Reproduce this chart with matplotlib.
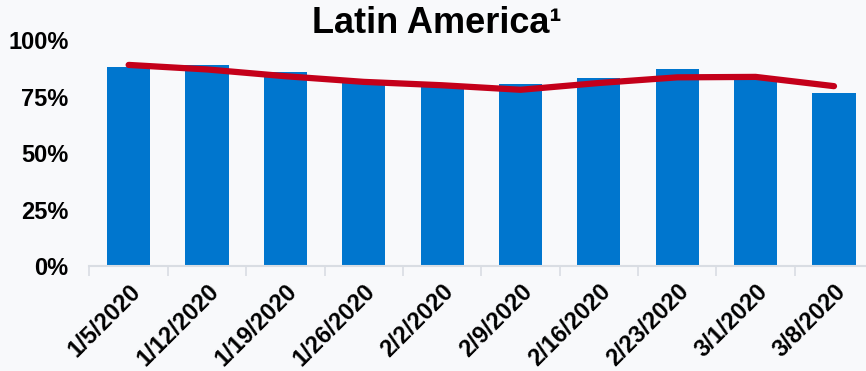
import numpy as np
import matplotlib.pyplot as plt

plt.rcParams['font.family'] = ['Liberation Sans', 'DejaVu Sans']

weeks = ['1/5/2020', '1/12/2020', '1/19/2020', '1/26/2020', '2/2/2020',
         '2/9/2020', '2/16/2020', '2/23/2020', '3/1/2020', '3/8/2020']
weekly_share = [88, 89, 86, 82, 80, 80.5, 83, 87, 83.5, 76.5]
trend = [89, 87, 84, 81.5, 80, 78, 81, 83.5, 83.7, 79.6]

bar_color = '#0076ce'
line_color = '#c4001a'
bg_color = '#f8f9fb'


def main():
    fig = plt.figure(figsize=(8.66, 3.71), dpi=100, facecolor=bg_color)
    ax = fig.add_axes([0.1033, 0.283, 0.905, 0.609])
    ax.set_facecolor(bg_color)

    x = np.arange(len(weeks))
    ax.bar(x, weekly_share, width=0.55, color=bar_color, zorder=2)
    ax.plot(x, trend, color=line_color, linewidth=4.5,
            solid_capstyle='round', solid_joinstyle='round', zorder=3)

    ax.set_xlim(-0.5, len(weeks) - 0.5)
    ax.set_ylim(0, 100)

    ax.set_yticks([0, 25, 50, 75, 100])
    ax.set_yticklabels(['0%', '25%', '50%', '75%', '100%'],
                       fontsize=17, fontweight='bold')
    ax.tick_params(axis='y', length=0, pad=15)

    ax.set_xticks(x)
    ax.set_xticklabels(weeks, rotation=45, ha='right', rotation_mode='anchor',
                       fontsize=17, fontweight='bold')
    ax.set_xticks(np.arange(len(weeks) + 1) - 0.5, minor=True)
    ax.tick_params(axis='x', which='major', length=0, pad=10)
    ax.tick_params(axis='x', which='minor', length=7, width=1.2,
                   color='#d9dde3')

    for side in ['top', 'right', 'left']:
        ax.spines[side].set_visible(False)
    ax.spines['bottom'].set_color('#d9dde3')
    ax.spines['bottom'].set_linewidth(1.5)

    fig.text(0.504, 0.911, 'Latin America\u00b9', ha='center', va='baseline',
             fontsize=26, fontweight='bold')

    fig.savefig('out.png', dpi=100, facecolor=bg_color)


if __name__ == '__main__':
    main()
